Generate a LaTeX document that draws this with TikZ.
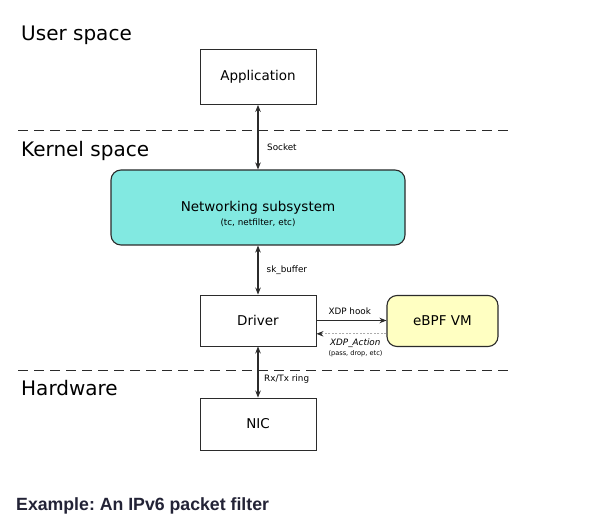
\documentclass[tikz,border=0pt]{standalone}
\usepackage{fontspec}
\setmainfont{DejaVu Sans}
\newfontfamily\capfont{Liberation Sans}
\usetikzlibrary{arrows.meta}
\definecolor{linec}{HTML}{2B2B2B}
\definecolor{netfill}{HTML}{82E9E1}
\definecolor{vmfill}{HTML}{FFFFC2}
\definecolor{capc}{HTML}{232336}
\frenchspacing
\tikzset{
  x=1pt, y=-1pt,
  box/.style={draw=linec, line width=0.9pt, rectangle, inner sep=0pt, font=\fontsize{13.5}{16}\selectfont},
  rbox/.style={box, rounded corners=10pt, line width=1.1pt},
  region/.style={anchor=base west, inner sep=0pt, font=\fontsize{20}{24}\selectfont},
  lbl/.style={inner sep=0pt, font=\fontsize{8.8}{10}\selectfont},
  divider/.style={draw=linec, line width=1pt, dash pattern=on 10pt off 6pt},
  biarrow/.style={draw=linec, line width=1.1pt, {Stealth[length=7pt,width=5.5pt]}-{Stealth[length=7pt,width=5.5pt]}},
  onearrow/.style={draw=linec, line width=1.1pt, -{Stealth[length=7pt,width=5.5pt]}},
  dotarrow/.style={draw=gray!65, line width=1pt, dash pattern=on 2pt off 1.5pt, -{Stealth[length=7pt,width=5.5pt,color=linec]}}
}
\begin{document}
\begin{tikzpicture}
\useasboundingbox[fill=white] (0,0) rectangle (610,529);
% dividers
\coordinate (d1a) at (18,131); \coordinate (d1b) at (508,131);
\coordinate (d2a) at (18,370); \coordinate (d2b) at (508,370);
\draw[divider] (d1a) -- (d1b);
\draw[divider] (d2a) -- (d2b);
% region titles
\node[region] (user) at (21,40.7) {User space};
\node[region] (kern) at (21,156.7) {Kernel space};
\node[region] (hw) at (21,395) {Hardware};
% boxes
\node[box, minimum width=116pt, minimum height=55pt] (app) at (258,77) {Application};
\node[rbox, fill=netfill, minimum width=294pt, minimum height=75pt, align=center] (net) at (258,207.5)
  {\rule{0pt}{24pt}Networking subsystem\\[-2pt]{\fontsize{8.8}{10}\selectfont (tc, netfilter, etc)}};
\node[box, minimum width=116pt, minimum height=51pt] (drv) at (258,320.5) {Driver};
\node[rbox, fill=vmfill, minimum width=111pt, minimum height=51pt] (vm) at (442.5,321) {eBPF VM};
\node[box, minimum width=116pt, minimum height=52pt] (nic) at (258,424) {NIC};
% connectors
\draw[biarrow] (app.south) -- (net.north);
\draw[biarrow] (net.south) -- (drv.north);
\draw[biarrow] (drv.south) -- (nic.north);
\draw[onearrow] (drv.east) -- (drv.east -| vm.west);
\draw[dotarrow] ([yshift=-12.8pt]vm.west) -- ([yshift=-12.8pt]vm.west -| drv.east);
% connector labels
\node[lbl, anchor=base west] (lsock) at (267,150.7) {Socket};
\node[lbl, anchor=base west] (lsk) at (266.5,272.3) {sk\_buffer};
\node[lbl, anchor=base west] (lrx) at (264,381.7) {Rx/Tx ring};
\node[lbl, anchor=base] (lxdp) at (349.7,314.7) {XDP hook};
\node[lbl, anchor=base] (lact) at (355.3,345.7) {\itshape XDP\_Action};
\node[inner sep=0pt, anchor=base, font=\fontsize{6.6}{8}\selectfont] (lpass) at (355.5,355.3) {(pass, drop, etc)};
% caption
\node[anchor=base west, inner sep=0pt, text=capc, font=\capfont\bfseries\fontsize{17.7}{20}\selectfont] (cap) at (16,510) {Example: An IPv6 packet filter};
\end{tikzpicture}
\end{document}
